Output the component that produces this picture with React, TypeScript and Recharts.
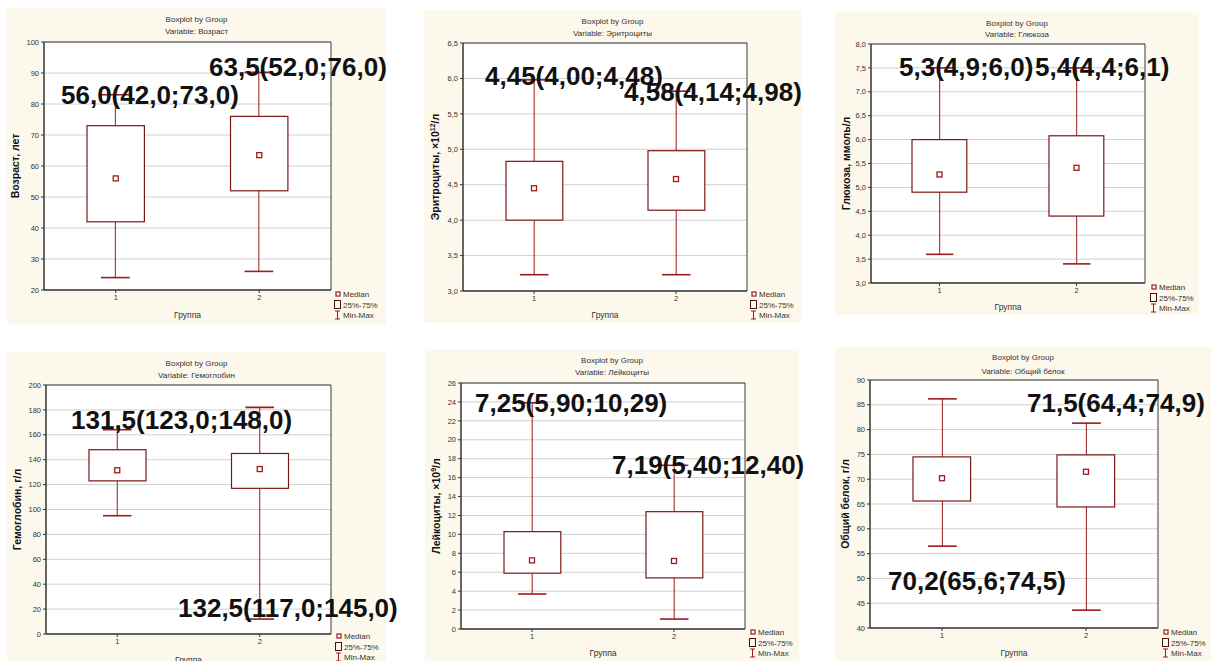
import React from "react";
import {
  ComposedChart,
  Bar,
  Scatter,
  XAxis,
  YAxis,
  CartesianGrid,
  ReferenceArea,
} from "recharts";

const groups = ["1", "2"];

// each group: [min, q1, median, q3, max]
const vozrast = [
  [24, 42, 56, 73, 83],
  [26, 52, 63.5, 76, 90.2],
];
const eritrocity = [
  [3.23, 4.0, 4.45, 4.83, 5.98],
  [3.23, 4.14, 4.58, 4.98, 5.82],
];
const glukoza = [
  [3.6, 4.9, 5.27, 6.0, 7.5],
  [3.4, 4.4, 5.41, 6.08, 7.5],
];
const gemoglobin = [
  [95, 123, 131.5, 148, 164],
  [12, 117, 132.5, 145, 182],
];
const leikocity = [
  [3.7, 5.9, 7.25, 10.29, 23.9],
  [1.05, 5.4, 7.19, 12.4, 17.3],
];
const belok = [
  [56.5, 65.6, 70.2, 74.5, 86.2],
  [43.6, 64.4, 71.5, 74.9, 81.3],
];

const ticksVozrast = [20, 30, 40, 50, 60, 70, 80, 90, 100];
const ticksEritrocity = [3.0, 3.5, 4.0, 4.5, 5.0, 5.5, 6.0, 6.5];
const ticksGlukoza = [3.0, 3.5, 4.0, 4.5, 5.0, 5.5, 6.0, 6.5, 7.0, 7.5, 8.0];
const ticksGemoglobin = [0, 20, 40, 60, 80, 100, 120, 140, 160, 180, 200];
const ticksLeikocity = [0, 2, 4, 6, 8, 10, 12, 14, 16, 18, 20, 22, 24, 26];
const ticksBelok = [40, 45, 50, 55, 60, 65, 70, 75, 80, 85, 90];

const notesVozrast = ["56,0(42,0;73,0)", "63,5(52,0;76,0)"];
const notesEritrocity = ["4,45(4,00;4,48)", "4,58(4,14;4,98)"];
const notesGlukoza = ["5,3(4,9;6,0)", "5,4(4,4;6,1)"];
const notesGemoglobin = ["131,5(123,0;148,0)", "132,5(117,0;145,0)"];
const notesLeikocity = ["7,25(5,90;10,29)", "7,19(5,40;12,40)"];
const notesBelok = ["71,5(64,4;74,9)", "70,2(65,6;74,5)"];

const FONT = "'Liberation Sans', Arial, sans-serif";
const CREAM = "#fcf8ec";
const MAROON = "#7a1717";
const RED = "#9c1b1b";

const panels = [
  {
    name: "Возраст", yLabel: ["Возраст, лет"], stats: vozrast, ticks: ticksVozrast, dec: 0, notes: notesVozrast,
    bg: [7, 8, 379, 316], plot: [44, 42, 331, 290], titleY: [22, 34], yLabelX: 15, xLabelY: 318,
    legend: [334, 294], notePos: [[61, 104], [209, 76]],
  },
  {
    name: "Эритроциты", yLabel: ["Эритроциты, ×10", "12", "/л"], stats: eritrocity, ticks: ticksEritrocity, dec: 1, notes: notesEritrocity,
    bg: [424, 10, 377, 313], plot: [463, 43, 747, 291], titleY: [24, 36], yLabelX: 435, xLabelY: 318,
    legend: [750, 294], notePos: [[485, 85], [624, 101]],
  },
  {
    name: "Глюкоза", yLabel: ["Глюкоза, ммоль/л"], stats: glukoza, ticks: ticksGlukoza, dec: 1, notes: notesGlukoza,
    bg: [835, 12, 364, 303], plot: [871, 44, 1145, 283], titleY: [26, 37], yLabelX: 846, xLabelY: 310,
    legend: [1150, 287], notePos: [[899, 76], [1035, 76]],
  },
  {
    name: "Гемоглобин", yLabel: ["Гемоглобин, г/л"], stats: gemoglobin, ticks: ticksGemoglobin, dec: 0, notes: notesGemoglobin,
    bg: [7, 352, 379, 309], plot: [46, 385, 331, 634], titleY: [366, 378], yLabelX: 17, xLabelY: 663,
    legend: [335, 636], notePos: [[71, 429], [178, 617]],
  },
  {
    name: "Лейкоциты", yLabel: ["Лейкоциты, ×10", "9", "/л"], stats: leikocity, ticks: ticksLeikocity, dec: 0, notes: notesLeikocity,
    bg: [425, 349, 374, 312], plot: [461, 383, 745, 629], titleY: [363, 375], yLabelX: 436, xLabelY: 656,
    legend: [749, 632], notePos: [[475, 412], [612, 474]],
  },
  {
    name: "Общий белок", yLabel: ["Общий белок, г/л"], stats: belok, ticks: ticksBelok, dec: 0, notes: notesBelok,
    bg: [835, 347, 376, 314], plot: [870, 380, 1158, 628], titleY: [360, 374], yLabelX: 845, xLabelY: 656,
    legend: [1162, 632], notePos: [[1027, 412], [888, 590]],
  },
];

function Whisker(props: any) {
  const { x, y, width, height } = props;
  const top = Math.min(y, y + height);
  const bot = Math.max(y, y + height);
  const cx = x + width / 2;
  return (
    <g>
      <line x1={cx} x2={cx} y1={top} y2={bot} stroke={RED} strokeWidth={1} />
      <line x1={x} x2={x + width} y1={top} y2={top} stroke={RED} strokeWidth={1.6} />
      <line x1={x} x2={x + width} y1={bot} y2={bot} stroke={RED} strokeWidth={1.6} />
    </g>
  );
}

function BoxShape(props: any) {
  const { x, y, width, height } = props;
  return (
    <rect
      x={x}
      y={Math.min(y, y + height)}
      width={width}
      height={Math.abs(height)}
      fill="#ffffff"
      stroke={MAROON}
      strokeWidth={1.2}
    />
  );
}

function MedianMark(props: any) {
  const { cx, cy } = props;
  return <rect x={cx - 2.5} y={cy - 2.5} width={5} height={5} fill="#fff" stroke={RED} strokeWidth={1.3} />;
}

function BoxChart({ p }: { p: any }) {
  const [bx, by, bw, bh] = p.bg;
  const [l, t, r, b] = p.plot;
  const pw = r - l;
  const YW = 24;
  const XH = 16;
  const lo = p.ticks[0];
  const hi = p.ticks[p.ticks.length - 1];
  const data = groups.map((g, i) => ({
    g,
    whisker: [p.stats[i][0], p.stats[i][4]],
    box: [p.stats[i][1], p.stats[i][3]],
    med: p.stats[i][2],
  }));
  const fmt = (v: number) => (p.dec ? v.toFixed(1).replace(".", ",") : String(v));
  return (
    <div style={{ position: "absolute", left: bx, top: by, width: bw, height: bh, background: CREAM }}>
      <ComposedChart
        width={bw}
        height={bh}
        data={data}
        barCategoryGap="0%"
        margin={{ top: t - by, right: bx + bw - r, bottom: by + bh - b - XH, left: l - bx - YW }}
        style={{ fontFamily: FONT }}
      >
        <CartesianGrid vertical={false} stroke="#d0d0d0" fill="#ffffff" />
        <XAxis
          dataKey="g"
          height={XH}
          interval={0}
          tick={{ fontSize: 7.5, fill: "#333" }}
          tickSize={3}
          tickLine={{ stroke: "#333" }}
          axisLine={{ stroke: "#333" }}
        />
        <XAxis xAxisId="w" dataKey="g" hide />
        <YAxis
          type="number"
          domain={[lo, hi]}
          ticks={p.ticks}
          interval={0}
          allowDataOverflow
          width={YW}
          tickFormatter={fmt}
          tick={{ fontSize: 7.5, fill: "#333" }}
          tickSize={3}
          tickLine={{ stroke: "#333" }}
          axisLine={{ stroke: "#333" }}
        />
        <ReferenceArea y1={lo} y2={hi} fill="none" stroke="#3a3a3a" strokeWidth={1} ifOverflow="visible" />
        <Bar xAxisId="w" dataKey="whisker" barSize={pw * 0.1} shape={Whisker} isAnimationActive={false} />
        <Bar dataKey="box" barSize={pw * 0.2} shape={BoxShape} isAnimationActive={false} />
        <Scatter dataKey="med" shape={MedianMark} isAnimationActive={false} />
      </ComposedChart>
    </div>
  );
}

function Overlay() {
  return (
    <svg
      width={1214}
      height={661}
      style={{ position: "absolute", left: 0, top: 0, pointerEvents: "none", fontFamily: FONT }}
    >
      {panels.map((p, k) => {
        const [bx, , bw] = p.bg;
        const [l, t, r, b] = p.plot;
        const tx = bx + bw / 2;
        const [lx, ly] = p.legend;
        const cy = (t + b) / 2;
        return (
          <g key={k}>
            <text x={tx} y={p.titleY[0]} textAnchor="middle" fontSize={8} fill="#333">
              Boxplot by Group
            </text>
            <text x={tx} y={p.titleY[1]} textAnchor="middle" fontSize={8} fill="#333">
              {"Variable: " + p.name}
            </text>
            <text
              transform={`translate(${p.yLabelX + 4},${cy}) rotate(-90)`}
              textAnchor="middle"
              fontSize={10.5}
              fontWeight="bold"
              fill="#111"
            >
              {p.yLabel[0]}
              {p.yLabel[1] ? (
                <tspan fontSize={7} dy={-4}>
                  {p.yLabel[1]}
                </tspan>
              ) : null}
              {p.yLabel[2] ? <tspan dy={4}>{p.yLabel[2]}</tspan> : null}
            </text>
            <text x={(l + r) / 2} y={p.xLabelY} textAnchor="middle" fontSize={8.5} fill="#333">
              Группа
            </text>
            {/* legend */}
            <rect x={lx + 2} y={ly - 2} width={4} height={4} fill="#fff" stroke={RED} strokeWidth={1.2} />
            <text x={lx + 9} y={ly + 3} fontSize={8} fill="#333">
              Median
            </text>
            <rect x={lx + 0.5} y={ly + 10.5 - 4} width={6} height={8} fill="none" stroke="#4a1010" strokeWidth={1} />
            <text x={lx + 9} y={ly + 13.5} fontSize={8} fill="#333">
              25%-75%
            </text>
            <line x1={lx + 3.5} x2={lx + 3.5} y1={ly + 17} y2={ly + 25} stroke={RED} strokeWidth={1} />
            <line x1={lx + 1} x2={lx + 6} y1={ly + 17} y2={ly + 17} stroke={RED} strokeWidth={1} />
            <line x1={lx + 1} x2={lx + 6} y1={ly + 25} y2={ly + 25} stroke={RED} strokeWidth={1} />
            <text x={lx + 9} y={ly + 24} fontSize={8} fill="#333">
              Min-Max
            </text>
            {/* annotations */}
            {p.notes.map((s: string, i: number) => (
              <text
                key={i}
                x={p.notePos[i][0]}
                y={p.notePos[i][1]}
                fontSize={26}
                fontWeight="bold"
                fill="#111"
              >
                {s}
              </text>
            ))}
          </g>
        );
      })}
    </svg>
  );
}

export default function App() {
  return (
    <div
      style={{
        position: "absolute",
        left: 0,
        top: 0,
        width: 1214,
        height: 661,
        overflow: "hidden",
        background: "#fff",
        fontFamily: FONT,
      }}
    >
      {panels.map((p, k) => (
        <BoxChart key={k} p={p} />
      ))}
      <Overlay />
    </div>
  );
}
